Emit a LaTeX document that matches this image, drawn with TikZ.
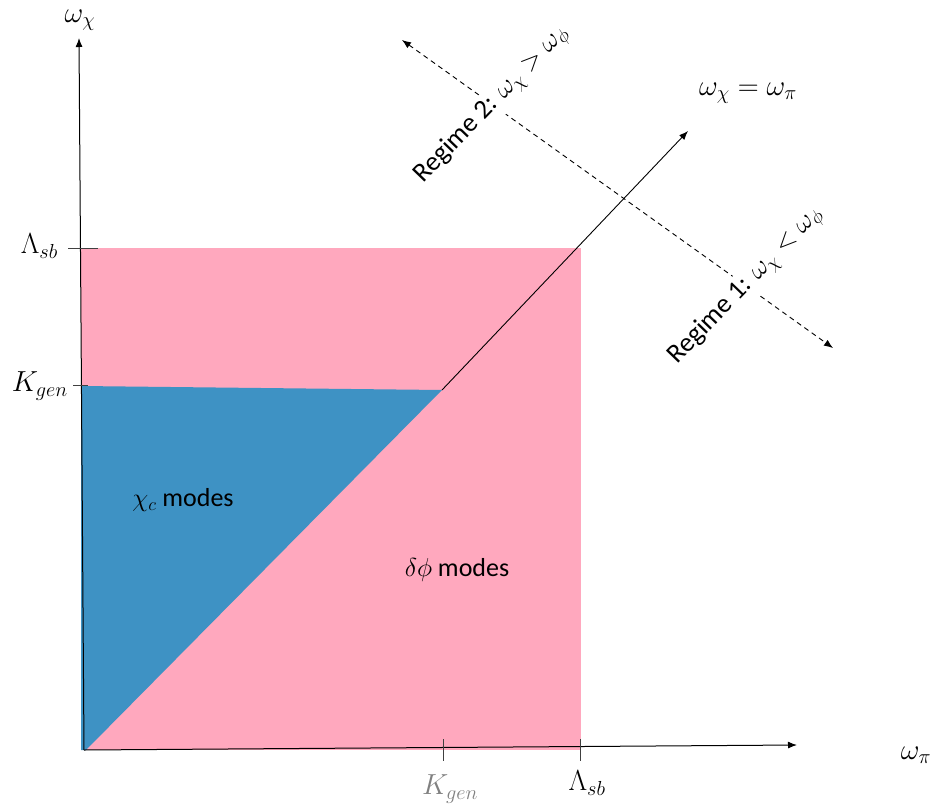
\RequirePackage{fix-cm}
\documentclass[tikz,border=0pt]{standalone}
\usepackage{fontspec}
\setmainfont{Carlito}
\usetikzlibrary{arrows.meta}
\definecolor{pinkfill}{RGB}{255,168,190}
\definecolor{bluefill}{RGB}{62,146,196}
\tikzset{
  axis/.style={line width=1pt, -{Latex[length=9pt,width=7pt]}},
  tick/.style={line width=0.8pt, black!75},
  lbl/.style={font=\fontsize{29}{33}\selectfont, inner sep=0pt},
  txt/.style={font=\fontsize{26}{30}\selectfont, inner sep=0pt},
  regime/.style={font=\fontsize{27}{31}\selectfont, fill=white, inner sep=3pt, rotate=46},
  dashline/.style={line width=0.9pt, dashed, dash pattern=on 5pt off 4pt, {Latex[length=9pt,width=7pt]}-{Latex[length=9pt,width=7pt]}}
}
\begin{document}
\begin{tikzpicture}[x=1pt,y=-1pt]
\useasboundingbox (0,0) rectangle (938,812);
% regions
\fill[pinkfill] (81,248) rectangle (581,750);
\fill[bluefill] (81,386) -- (442,390) -- (86,750) -- (81,750) -- cycle;
% coordinates
\coordinate (O) at (84,750);
\coordinate (Ytop) at (79,38);
\coordinate (Xend) at (797,745);
\coordinate (D1) at (442,390);
\coordinate (Dend) at (688,131);
\coordinate (R2) at (402,40);
\coordinate (R1) at (833,348);
% axes
\draw[axis] (O) -- (Ytop);
\draw[axis] (O) -- (Xend);
% diagonal
\draw[line width=0.9pt, -{Latex[length=9pt,width=7pt]}] (D1) -- (Dend);
% regime dashed line
\draw[dashline] (R2) -- (R1);
% ticks
\draw[tick] (68,248) -- (98,248);
\draw[tick] (73,385) -- (88,385);
\draw[tick] (443,739) -- (443,761);
\draw[tick] (580,739) -- (580,761);
% labels
\node[lbl] (wchi) at (80,20) {$\omega_\chi$};
\node[lbl] (wpi) at (916,755) {$\omega_\pi$};
\node[lbl] (eq) at (748,93) {$\omega_\chi = \omega_\pi$};
\node[lbl, anchor=east] (Lsby) at (58,246) {$\Lambda_{sb}$};
\node[lbl, anchor=east] (Kgeny) at (68,386) {$K_{gen}$};
\node[lbl, text=black!50] (Kgenx) at (450,789) {$K_{gen}$};
\node[lbl] (Lsbx) at (587,783) {$\Lambda_{sb}$};
\node[txt] (chic) at (183,500) {$\chi_c$ modes};
\node[txt] (dphi) at (457,570) {$\delta\phi$ modes};
\node[regime] (reg2) at (492,105) {Regime 2: $\omega_\chi > \omega_\phi$};
\node[regime] (reg1) at (746,286) {Regime 1: $\omega_\chi < \omega_\phi$};
\end{tikzpicture}
\end{document}
